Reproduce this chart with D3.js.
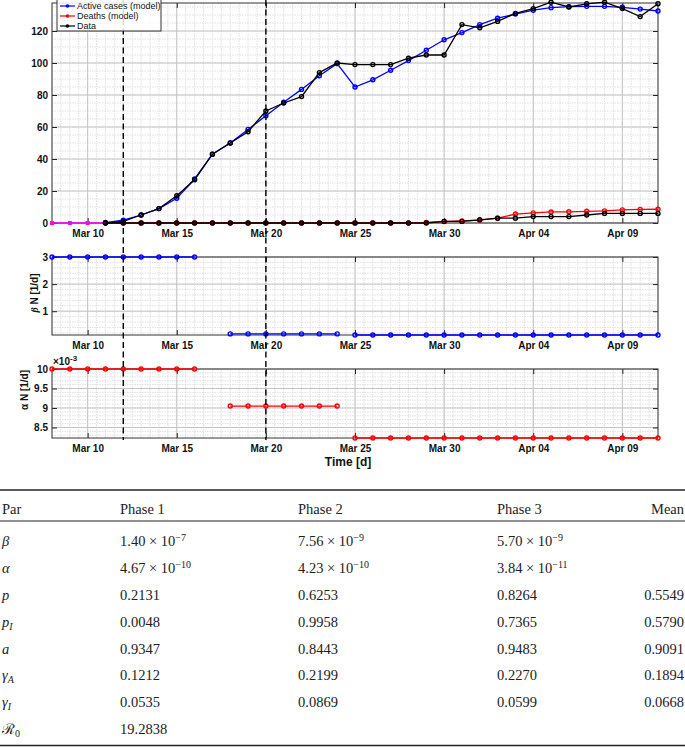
<!DOCTYPE html>
<html>
<head>
<meta charset="utf-8">
<script src="https://cdn.jsdelivr.net/npm/d3@7"></script>
<style>
  body { margin: 0; background: #fff; }
  svg text { font-family: "Liberation Sans", Arial, sans-serif; }
  .tbl text { font-family: "Liberation Serif", "Times New Roman", serif; font-size: 14.5px; fill: #222; }
</style>
</head>
<body>
<svg id="chart" width="685" height="747"></svg>
<script>
const width = 685;
const height = 747;

// day axis: Mar 08 .. Apr 11 2020
const startDate = new Date(Date.UTC(2020, 2, 8));
const endDate = new Date(Date.UTC(2020, 3, 11));
const phaseLines = [new Date(Date.UTC(2020, 2, 12)), new Date(Date.UTC(2020, 2, 20))];
const tickDates = [10, 15, 20, 25, 30, 35, 40].map(d => new Date(Date.UTC(2020, 2, d)));

// pre-fit values (Mar 08 - Mar 11)
const preFit = [0, 0, 0, 0];

// Mar 11 - Apr 11
const activeModel = [0.3, 1.8, 5, 9, 15.5, 27.5, 43, 50, 58.5, 67,
  75.5, 83.5, 92, 99.6, 85, 89.5, 95.5, 101.5, 108, 114.5,
  119, 124, 128, 130.6, 133, 134.6, 135.2, 135.4, 135.4, 134.8, 133.7, 132.5];
const deathsModel = [0, 0, 0, 0, 0, 0, 0, 0, 0, 0,
  0, 0, 0, 0, 0, 0, 0, 0.05, 0.3, 0.9,
  1.3, 1.8, 3, 5.6, 6.3, 6.9, 7, 7.3, 7.6, 8.2, 8.5, 8.6];
const activeData = [0, 1, 5, 9, 17, 27, 43, 50, 57, 70,
  75, 79, 94, 100, 99, 99, 99, 103, 105, 105,
  124, 122, 126, 131, 134, 138, 135, 137, 138, 134, 129, 137];
const deathsData = [0, 0, 0, 0, 0, 0, 0, 0, 0, 0,
  0, 0, 0, 0, 0, 0, 0, 0, 0, 1,
  1, 2, 3, 3, 4, 4, 4, 5, 6, 6, 6, 6];

// beta*N and alpha*N per phase [first day (of March), last day, value]
const betaPhases = [[8, 16, 3.0], [18, 24, 0.162], [25, 42, 0.122]];
const alphaPhases = [[8, 16, 10.0], [18, 24, 9.05], [25, 42, 8.23]]; // x 1e-3

// table
const tableHeader = ["Par", "Phase 1", "Phase 2", "Phase 3", "Mean"];
const tableRows = [
  ["β", ["1.40", "−7"], ["7.56", "−9"], ["5.70", "−9"], ""],
  ["α", ["4.67", "−10"], ["4.23", "−10"], ["3.84", "−11"], ""],
  ["p", "0.2131", "0.6253", "0.8264", "0.5549"],
  ["p|I", "0.0048", "0.9958", "0.7365", "0.5790"],
  ["a", "0.9347", "0.8443", "0.9483", "0.9091"],
  ["γ|A", "0.1212", "0.2199", "0.2270", "0.1894"],
  ["γ|I", "0.0535", "0.0869", "0.0599", "0.0668"],
  ["R|0", "19.2838", "", "", ""]
];

const svg = d3.select("#chart");
const dayOf = (d, i) => new Date(Date.UTC(2020, 2, d + i));

const x = d3.scaleUtc().domain([startDate, endDate]).range([52, 658]);
const minorX = d3.utcHour.every(12).range(startDate, d3.utcHour.offset(endDate, 1));

const panels = [
  { top: 3, bottom: 223, domain: [0, 137.5], major: d3.range(0, 121, 20), minor: d3.range(0, 137.5, 5) },
  { top: 257, bottom: 335, domain: [0.122, 3], major: [1, 2, 3], minor: d3.range(0.2, 3.01, 0.2) },
  { top: 369, bottom: 438, domain: [8.23, 10], major: [8.5, 9, 9.5, 10], minor: d3.range(8.3, 10.01, 0.1) }
];

panels.forEach(p => {
  p.y = d3.scaleLinear().domain(p.domain).range([p.bottom, p.top]);
  const g = svg.append("g");
  // minor grid
  g.selectAll(".mx").data(minorX).join("line")
    .attr("x1", d => x(d)).attr("x2", d => x(d))
    .attr("y1", p.top).attr("y2", p.bottom)
    .attr("stroke", "#d9d9d9").attr("stroke-width", 0.8).attr("stroke-dasharray", "1.5,1");
  g.selectAll(".my").data(p.minor).join("line")
    .attr("x1", 52).attr("x2", 658)
    .attr("y1", d => p.y(d)).attr("y2", d => p.y(d))
    .attr("stroke", "#d9d9d9").attr("stroke-width", 0.8).attr("stroke-dasharray", "1.5,1");
  // major grid
  g.selectAll(".Mx").data(tickDates).join("line")
    .attr("x1", d => x(d)).attr("x2", d => x(d))
    .attr("y1", p.top).attr("y2", p.bottom)
    .attr("stroke", "#c4c4c4").attr("stroke-width", 1);
  g.selectAll(".My").data(p.major).join("line")
    .attr("x1", 52).attr("x2", 658)
    .attr("y1", d => p.y(d)).attr("y2", d => p.y(d))
    .attr("stroke", "#c4c4c4").attr("stroke-width", 1);

  // axes, ticks inside and mirrored
  const bottomAx = g.append("g").attr("transform", `translate(0,${p.bottom})`)
    .call(d3.axisBottom(x).tickValues(tickDates).tickSizeInner(-5).tickSizeOuter(0).tickPadding(7)
      .tickFormat(d3.utcFormat("%b %d")));
  const topAx = g.append("g").attr("transform", `translate(0,${p.top})`)
    .call(d3.axisTop(x).tickValues(tickDates).tickSizeInner(-5).tickSizeOuter(0).tickFormat(""));
  const leftAx = g.append("g").attr("transform", "translate(52,0)")
    .call(d3.axisLeft(p.y).tickValues(p.major).tickSizeInner(-5).tickSizeOuter(0).tickPadding(4).tickFormat(d3.format("")));
  const rightAx = g.append("g").attr("transform", "translate(658,0)")
    .call(d3.axisRight(p.y).tickValues(p.major).tickSizeInner(-5).tickSizeOuter(0).tickFormat(""));
  [bottomAx, topAx, leftAx, rightAx].forEach(a => {
    a.select(".domain").remove();
    a.selectAll("line").attr("stroke", "#222");
    a.selectAll("text").attr("font-size", 10).attr("font-weight", "bold")
      .attr("font-family", "Liberation Sans, Arial, sans-serif").attr("fill", "#111");
  });
  g.append("rect").attr("x", 52).attr("y", p.top).attr("width", 606).attr("height", p.bottom - p.top)
    .attr("fill", "none").attr("stroke", "#333").attr("stroke-width", 1);
});

// top panel series
const yTop = panels[0].y;
const fitDays = activeModel.map((v, i) => dayOf(11, i));
const lineTop = d3.line().x(d => x(d[0])).y(d => yTop(d[1]));

function series(g, vals, days, color, marker, r) {
  const pts = vals.map((v, i) => [days[i], v]);
  g.append("path").datum(pts).attr("d", lineTop).attr("fill", "none")
    .attr("stroke", color).attr("stroke-width", 1.3);
  if (marker === "square") {
    g.selectAll(null).data(pts).join("rect")
      .attr("x", d => x(d[0]) - 2).attr("y", d => yTop(d[1]) - 2)
      .attr("width", 4).attr("height", 4).attr("fill", color);
  } else {
    g.selectAll(null).data(pts).join("circle")
      .attr("cx", d => x(d[0])).attr("cy", d => yTop(d[1])).attr("r", r)
      .attr("fill", "none").attr("stroke", color).attr("stroke-width", 1.4);
  }
}
const gTop = svg.append("g");
series(gTop, preFit, preFit.map((v, i) => dayOf(8, i)), "#ff00ff", "square");
series(gTop, activeModel, fitDays, "#0000ff", "circle", 2);
series(gTop, deathsModel, fitDays, "#ff0000", "circle", 2);
series(gTop, deathsData, fitDays, "#000", "circle", 2);
series(gTop, activeData, fitDays, "#000", "circle", 2);

// phase panels
function phases(p, rows, color) {
  const g = svg.append("g");
  rows.forEach(([d0, d1, v]) => {
    const days = d3.range(d0, d1 + 1).map(d => dayOf(d, 0));
    g.append("line").attr("x1", x(days[0])).attr("x2", x(days[days.length - 1]))
      .attr("y1", p.y(v)).attr("y2", p.y(v)).attr("stroke", color).attr("stroke-width", 1.3);
    g.selectAll(null).data(days).join("circle")
      .attr("cx", d => x(d)).attr("cy", p.y(v)).attr("r", 2)
      .attr("fill", "none").attr("stroke", color).attr("stroke-width", 1.4);
  });
}
phases(panels[1], betaPhases, "#0000ff");
phases(panels[2], alphaPhases, "#ff0000");

// phase change dashed lines
svg.selectAll(".phase").data(phaseLines).join("line")
  .attr("x1", d => x(d)).attr("x2", d => x(d)).attr("y1", 0).attr("y2", 440)
  .attr("stroke", "#000").attr("stroke-width", 1.4).attr("stroke-dasharray", "6,3.5");

// legend
const legend = svg.append("g");
legend.append("rect").attr("x", 57).attr("y", -4).attr("width", 104).attr("height", 35)
  .attr("fill", "#fff").attr("fill-opacity", 0.85).attr("stroke", "#333").attr("stroke-width", 1);
const legendItems = [["Active cases (model)", "#0000ff"], ["Deaths (model)", "#ff0000"], ["Data", "#000"]];
legendItems.forEach(([label, color], i) => {
  const ly = 6 + i * 10;
  legend.append("line").attr("x1", 60).attr("x2", 75).attr("y1", ly).attr("y2", ly)
    .attr("stroke", color).attr("stroke-width", 1.2);
  legend.append("circle").attr("cx", 67.5).attr("cy", ly).attr("r", 1.8).attr("fill", color);
  legend.append("text").attr("x", 77).attr("y", ly).attr("dy", "0.35em")
    .attr("font-size", 9).attr("fill", "#111").text(label);
});

// axis labels
svg.append("text").attr("transform", "translate(38,293) rotate(-90)").attr("text-anchor", "middle")
  .attr("font-size", 10).attr("font-weight", "bold").attr("fill", "#111")
  .html('<tspan font-style="italic" font-family="Liberation Serif, serif">β</tspan> N [1/d]');
svg.append("text").attr("transform", "translate(28,390) rotate(-90)").attr("text-anchor", "middle")
  .attr("font-size", 10).attr("font-weight", "bold").attr("fill", "#111")
  .text("α N [1/d]");
svg.append("text").attr("x", 53).attr("y", 365).attr("font-size", 10).attr("font-weight", "bold").attr("fill", "#111")
  .html('×10<tspan dy="-4" font-size="8">-3</tspan>');
svg.append("text").attr("x", 348).attr("y", 466).attr("text-anchor", "middle")
  .attr("font-size", 12).attr("font-weight", "bold").attr("fill", "#111").text("Time [d]");

// table
const tbl = svg.append("g").attr("class", "tbl");
const colX = [2, 120, 298, 497, 684];
const rowY = [541, 568, 595, 622, 649, 675, 702, 729];
tbl.append("line").attr("x1", 0).attr("x2", 685).attr("y1", 490).attr("y2", 490).attr("stroke", "#222").attr("stroke-width", 1.6);
tbl.append("line").attr("x1", 0).attr("x2", 685).attr("y1", 521).attr("y2", 521).attr("stroke", "#222").attr("stroke-width", 1);
tbl.append("line").attr("x1", 0).attr("x2", 685).attr("y1", 745.5).attr("y2", 745.5).attr("stroke", "#222").attr("stroke-width", 1.6);
tableHeader.forEach((h, j) => {
  tbl.append("text").attr("x", colX[j]).attr("y", 514).attr("text-anchor", j === 4 ? "end" : "start").text(h);
});
tableRows.forEach((row, i) => {
  const y = rowY[i] + 5;
  row.forEach((cell, j) => {
    const t = tbl.append("text").attr("x", colX[j]).attr("y", y).attr("text-anchor", j === 4 ? "end" : "start");
    if (j === 0) {
      const [base, sub] = cell.split("|");
      t.append("tspan").attr("font-style", base === "R" ? "normal" : "italic").text(base === "R" ? "ℛ" : base);
      if (sub) t.append("tspan").attr("dy", 3).attr("font-size", 10).attr("font-style", base === "R" ? "normal" : "italic").text(sub);
    } else if (Array.isArray(cell)) {
      t.append("tspan").text(cell[0] + " × 10");
      t.append("tspan").attr("dy", -5).attr("font-size", 10).text(cell[1]);
    } else {
      t.text(cell);
    }
  });
});
</script>
</body>
</html>
